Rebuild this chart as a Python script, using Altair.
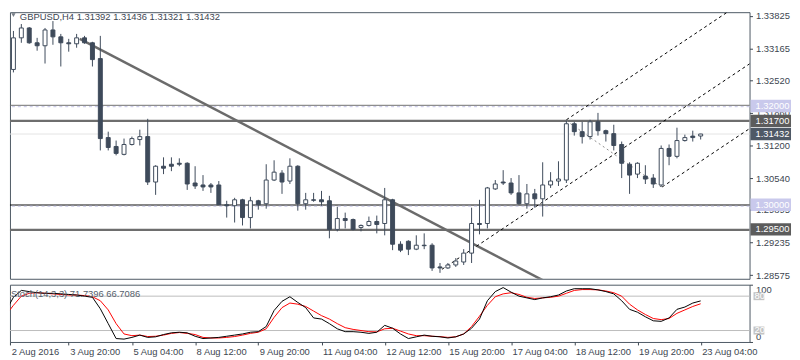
import altair as alt
import pandas as pd
import json

opens = [1.3236, 1.3274, 1.3338, 1.3358, 1.3328, 1.3322, 1.3354, 1.3340, 1.3328, 1.3326,
         1.3338, 1.3328, 1.3296, 1.3136, 1.3118, 1.3102, 1.3122, 1.3132, 1.3138, 1.3046,
         1.3078, 1.3082, 1.3084, 1.3084, 1.3044, 1.3040, 1.3040, 1.3040, 1.3000, 1.2998,
         1.3010, 1.2974, 1.3008, 1.3002, 1.3050, 1.3064, 1.3048, 1.3078, 1.3002, 1.3010,
         1.3010, 1.3008, 1.2950, 1.2972, 1.2970, 1.2954, 1.2958, 1.2966, 1.2962, 1.3010,
         1.2920, 1.2926, 1.2910, 1.2918, 1.2918, 1.2874, 1.2872, 1.2878, 1.2884, 1.2902,
         1.2962, 1.2962, 1.3032, 1.3046, 1.3044, 1.3024, 1.3002, 1.3022, 1.3012, 1.3040,
         1.3048, 1.3050, 1.3164, 1.3148, 1.3138, 1.3168, 1.3150, 1.3144, 1.3122, 1.3082,
         1.3062, 1.3058, 1.3054, 1.3040, 1.3114, 1.3098, 1.3130, 1.3139, 1.31392]
highs = [1.3296, 1.3352, 1.3366, 1.3360, 1.3338, 1.3358, 1.3372, 1.3346, 1.3336, 1.3346,
         1.3342, 1.3330, 1.3342, 1.3148, 1.3130, 1.3134, 1.3138, 1.3152, 1.3174, 1.3080,
         1.3096, 1.3096, 1.3094, 1.3086, 1.3078, 1.3060, 1.3044, 1.3048, 1.3008, 1.3014,
         1.3012, 1.3016, 1.3010, 1.3082, 1.3090, 1.3070, 1.3094, 1.3080, 1.3024, 1.3024,
         1.3028, 1.3018, 1.2996, 1.2984, 1.2972, 1.2960, 1.2976, 1.2978, 1.3034, 1.3012,
         1.2926, 1.2928, 1.2938, 1.2942, 1.2922, 1.2882, 1.2882, 1.2892, 1.2910, 1.2994,
         1.3010, 1.3036, 1.3050, 1.3070, 1.3054, 1.3060, 1.3042, 1.3032, 1.3086, 1.3066,
         1.3088, 1.3170, 1.3168, 1.3168, 1.3172, 1.3186, 1.3152, 1.3162, 1.3128, 1.3086,
         1.3086, 1.3080, 1.3062, 1.3120, 1.3122, 1.3156, 1.3142, 1.3150, 1.31436]
lows = [1.3222, 1.3268, 1.3328, 1.3326, 1.3312, 1.3286, 1.3324, 1.3280, 1.3310, 1.3318,
        1.3326, 1.3280, 1.3110, 1.3110, 1.3100, 1.3100, 1.3120, 1.3120, 1.3040, 1.3020,
        1.3062, 1.3068, 1.3078, 1.3030, 1.3032, 1.3028, 1.3024, 1.3000, 1.2974, 1.2964,
        1.2958, 1.2952, 1.2990, 1.2992, 1.3048, 1.3022, 1.3042, 1.2988, 1.2990, 1.3006,
        1.2998, 1.2932, 1.2946, 1.2952, 1.2948, 1.2946, 1.2956, 1.2942, 1.2938, 1.2908,
        1.2904, 1.2898, 1.2908, 1.2910, 1.2866, 1.2862, 1.2870, 1.2874, 1.2878, 1.2882,
        1.2940, 1.2952, 1.3030, 1.3040, 1.3020, 1.3000, 1.2992, 1.2994, 1.2976, 1.3034,
        1.3038, 1.3044, 1.3140, 1.3124, 1.3132, 1.3140, 1.3128, 1.3110, 1.3054, 1.3022,
        1.3054, 1.3042, 1.3034, 1.3036, 1.3080, 1.3094, 1.3128, 1.3128, 1.31321]
closes = [1.3276, 1.3338, 1.3358, 1.3328, 1.3322, 1.3354, 1.3340, 1.3328, 1.3326, 1.3338,
          1.3328, 1.3294, 1.3134, 1.3116, 1.3104, 1.3122, 1.3134, 1.3138, 1.3046, 1.3078,
          1.3074, 1.3078, 1.3082, 1.3042, 1.3038, 1.3036, 1.3036, 1.3000, 1.2998, 1.3010,
          1.2974, 1.3008, 1.3000, 1.3050, 1.3066, 1.3046, 1.3078, 1.3002, 1.3010, 1.3009,
          1.3006, 1.2950, 1.2972, 1.2968, 1.2950, 1.2958, 1.2966, 1.2960, 1.3010, 1.2920,
          1.2908, 1.2910, 1.2918, 1.2917, 1.2872, 1.2872, 1.2878, 1.2886, 1.2902, 1.2962,
          1.2960, 1.3034, 1.3042, 1.3044, 1.3024, 1.3002, 1.3022, 1.3012, 1.3040, 1.3048,
          1.3052, 1.3164, 1.3148, 1.3138, 1.3168, 1.3150, 1.3144, 1.3120, 1.3084, 1.3060,
          1.3084, 1.3052, 1.3042, 1.3114, 1.3098, 1.3130, 1.3136, 1.3136, 1.31432]
stoch_k = [53, 78, 90, 88, 86, 85, 85, 84, 83, 82, 80, 78, 58, 32, 6, 5, 8, 12, 8, 9,
           13, 16, 17, 16, 10, 6, 7, 8, 10, 12, 14, 17, 18, 27, 55, 71, 79, 69, 60, 42,
           40, 32, 23, 18, 18, 17, 15, 17, 29, 24, 14, 6, 9, 12, 10, 9, 7, 9, 14, 24,
           40, 72, 88, 95, 87, 80, 77, 74, 77, 79, 82, 89, 93, 93, 93, 91, 88, 84, 72, 57,
           52, 44, 37, 36, 42, 57, 61, 68, 71.7396]
stoch_d = [46, 64, 80, 85, 86, 85, 84, 83, 82, 82, 81, 79, 72, 56, 32, 14, 11, 12, 9.5, 10,
           12, 15, 16.5, 15, 13, 8, 7, 7, 8, 9.5, 12, 15, 17, 23, 43, 60, 68, 66, 62, 54,
           46, 40, 32, 25, 22, 20, 18, 17.6, 23, 24, 19, 14, 11, 11, 10, 9.4, 8, 9, 14, 27,
           45, 64, 79, 84, 86, 83, 78, 76, 77, 78, 80, 85, 90, 91.5, 91.5, 91, 89, 86, 80, 66,
           56, 48, 41, 39, 41, 50, 56, 62, 66.7086]

tick_labels = ["2 Aug 2016", "3 Aug 20:00", "5 Aug 04:00", "8 Aug 12:00", "9 Aug 20:00",
               "11 Aug 04:00", "12 Aug 12:00", "15 Aug 20:00", "17 Aug 04:00",
               "18 Aug 12:00", "19 Aug 20:00", "23 Aug 04:00"]
tick_bars = [1.6, 9, 17, 25, 33, 41, 49, 57, 65, 73, 81, 89]
price_ticks = [1.33825, 1.33165, 1.3252, 1.3186, 1.312, 1.3054, 1.29895, 1.29235, 1.28575]

trend_i = [10.4, 69.5]
trend_p = [1.3336, 1.28431]
chan_up_i = [72, 96]
chan_up_p = [1.3172, 1.34288]
chan_mid_i = [56.25, 95.25]
chan_mid_p = [1.28692, 1.3286]
chan_low_i = [84.125, 95.25]
chan_low_p = [1.3036, 1.31548]
diag_i = [72, 84]
diag_p = [1.3170, 1.3036]

box_prices = [1.3200, 1.3170, 1.31432, 1.3000, 1.2950]
box_labels = ["1.32000", "1.31700", "1.31432", "1.30000", "1.29500"]
box_colors = ["#c9c9ec", "#5c5c5c", "#4f5966", "#c9c9ec", "#5c5c5c"]

title_text = "GBPUSD,H4  1.31392 1.31436 1.31321 1.31432"
stoch_text = "Stoch(14,3,3) 71.7396 66.7086"

FONT = "Liberation Sans"
CANDLE = "#3e4a5a"
AXC = "#3c4650"
W = 749

df = pd.DataFrame({"i": list(range(1, len(opens) + 1)), "open": opens, "high": highs,
                   "low": lows, "close": closes, "k": stoch_k, "d": stoch_d})

xs = alt.Scale(domain=[1.5625, 95.1875], nice=False, zero=False)
ys = alt.Scale(domain=[1.2850, 1.3390], nice=False, zero=False)

yaxis = alt.Axis(orient="right", values=price_ticks, format=".5f", tickSize=3,
                 labelFontSize=9.5, labelFont=FONT, labelColor=AXC,
                 tickColor=AXC, domain=False, grid=False, labelPadding=3,
                 labelFlush=False, title="", zindex=0)


def PX(field):
    return alt.X(field, scale=xs, axis=None)


def PY(field):
    return alt.Y(field, scale=ys, axis=yaxis)


base = alt.Chart(df)

wick = base.mark_rule(color=CANDLE, strokeWidth=1, clip=True).encode(
    x=PX("i:Q"), y=PY("low:Q"), y2="high:Q")

body = base.transform_calculate(xl="datum.i - 0.25", xr="datum.i + 0.25").mark_rect(
    stroke=CANDLE, strokeWidth=1, clip=True).encode(
    x=PX("xl:Q"), x2="xr:Q", y=PY("open:Q"), y2="close:Q",
    fill=alt.condition("datum.close >= datum.open", alt.value("#ffffff"), alt.value(CANDLE)))


def hline(p, color, width, dash=None):
    kw = dict(color=color, strokeWidth=width)
    if dash:
        kw["strokeDash"] = dash
    return alt.Chart(pd.DataFrame({"p": [p]})).mark_rule(**kw).encode(y=PY("p:Q"))


def tline(xi, pp, color, width, dash=None):
    kw = dict(color=color, strokeWidth=width, clip=True)
    if dash:
        kw["strokeDash"] = dash
    return alt.Chart(pd.DataFrame({"i": xi, "p": pp})).mark_line(**kw).encode(
        x=PX("i:Q"), y=PY("p:Q"))


lines = [
    hline(1.31432, "#e4e4e4", 1),
    hline(1.32014, "#6e6e6e", 1),
    hline(1.31986, "#c4c4e6", 1, [3, 3]),
    hline(1.3170, "#6e6e6e", 2.2),
    hline(1.29994, "#000000", 1),
    hline(1.2997, "#c4c4e6", 1, [3, 3]),
    hline(1.2949, "#6e6e6e", 2.2),
]

trends = [
    tline(trend_i, trend_p, "#6b6b6b", 2.5),
    tline(chan_up_i, chan_up_p, "#000000", 1, [3, 3]),
    tline(chan_mid_i, chan_mid_p, "#000000", 1, [3, 3]),
    tline(chan_low_i, chan_low_p, "#000000", 1, [3, 3]),
    tline(diag_i, diag_p, "#8a8a8a", 1, [2, 3]),
]

bdf = pd.DataFrame({"p": box_prices, "lab": box_labels, "col": box_colors})
boxes = alt.Chart(bdf).transform_calculate(
    top="datum.p + 0.00125", bot="datum.p - 0.00125").mark_rect().encode(
    x=alt.value(W + 1), x2=alt.value(W + 42),
    y=PY("top:Q"), y2="bot:Q",
    color=alt.Color("col:N", scale=None))
box_text = alt.Chart(bdf).mark_text(align="left", baseline="middle", fontSize=9.5,
                                     font=FONT, color="#ffffff").encode(
    x=alt.value(W + 6), y=PY("p:Q"), text="lab:N")

title_tri = alt.Chart(pd.DataFrame({"t": [title_text]})).mark_point(
    shape="triangle-down", filled=True, size=18, color="#3c4652").encode(
    x=alt.value(3.5), y=alt.value(3))
title = alt.Chart(pd.DataFrame({"t": [title_text]})).mark_text(
    align="left", baseline="top", fontSize=9.5, font=FONT, color="#3c4652").encode(
    x=alt.value(10), y=alt.value(0), text="t:N")

main = alt.layer(*lines, *trends, wick, body, boxes, box_text, title_tri, title).properties(
    width=W, height=270)

# ---- stochastic panel ----
ss = alt.Scale(domain=[0, 100], nice=False, zero=False)
xaxis = alt.Axis(values=tick_bars, tickSize=3, labelAlign="left", labelPadding=2,
                 labelOffset=1, labelFontSize=9.5, labelFont=FONT, labelColor=AXC,
                 tickColor=AXC, domain=False, grid=False, title="", zindex=0,
                 labelExpr="%s[round((datum.value - 1) / 8)]" % json.dumps(tick_labels))
saxis = alt.Axis(orient="right", values=[0, 100], tickSize=3, labelFontSize=9.5,
                 labelFont=FONT, labelColor=AXC, tickColor=AXC, domain=False,
                 grid=False, labelPadding=3, labelFlush=True, title="", zindex=0)


def SX(field):
    return alt.X(field, scale=xs, axis=xaxis)


def SY(field):
    return alt.Y(field, scale=ss, axis=saxis)


levels = alt.Chart(pd.DataFrame({"v": [80, 20]})).mark_rule(color="#bcbcbc", strokeWidth=1).encode(
    y=SY("v:Q"))
klin = base.mark_line(color="#000000", strokeWidth=1, clip=True).encode(x=SX("i:Q"), y=SY("k:Q"))
dlin = base.mark_line(color="#ff0000", strokeWidth=1, clip=True).encode(x=SX("i:Q"), y=SY("d:Q"))
ldf = pd.DataFrame({"v": [80, 20], "lab": ["80", "20"]})
lbox = alt.Chart(ldf).transform_calculate(top="datum.v + 7", bot="datum.v - 7").mark_rect(
    color="#c4c4c4").encode(x=alt.value(W + 4), x2=alt.value(W + 15), y=SY("top:Q"), y2="bot:Q")
ltext = alt.Chart(ldf).mark_text(align="left", baseline="middle", fontSize=9.5, font=FONT,
                                 color="#ffffff").encode(
    x=alt.value(W + 5), y=SY("v:Q"), text="lab:N")
stext = alt.Chart(pd.DataFrame({"t": [stoch_text]})).mark_text(
    align="left", baseline="middle", fontSize=9.5, font=FONT, color="#56606c").encode(
    x=alt.value(1), y=alt.value(9), text="t:N")

stoch = alt.layer(levels, dlin, klin, lbox, ltext, stext).properties(width=W, height=58)

chart = alt.vconcat(main, stoch, spacing=3).properties(
    padding={"left": 0, "top": 0, "right": 0, "bottom": 0}, background="#ffffff"
).configure_view(stroke="#4d5864", strokeWidth=1)

chart.save("out.html", embed_options={"renderer": "svg", "actions": False})
